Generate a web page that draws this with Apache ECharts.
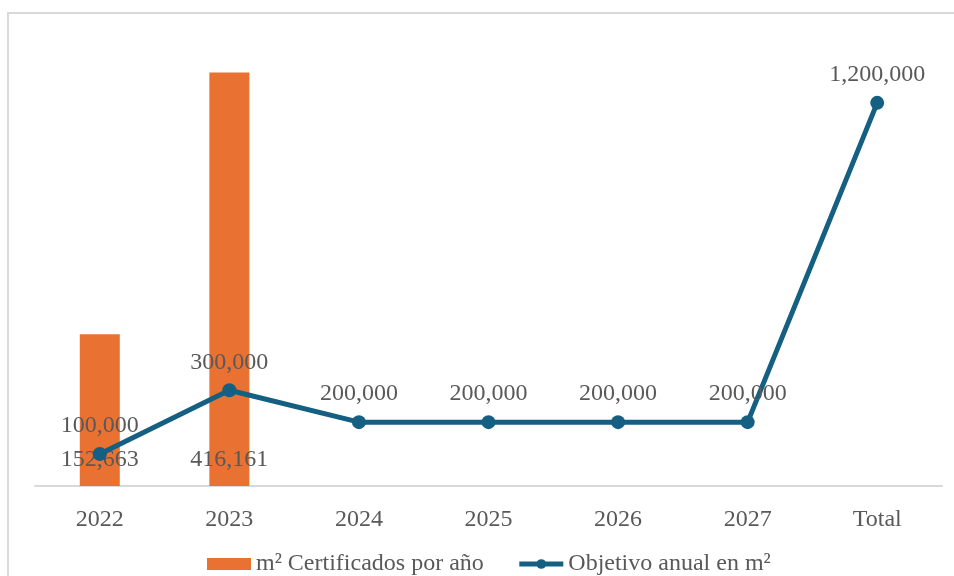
<!DOCTYPE html>
<html>
<head>
<meta charset="utf-8">
<script src="https://cdn.jsdelivr.net/npm/echarts@6/dist/echarts.min.js"></script>
<style>
  html, body { margin: 0; padding: 0; background: #fff; }
  #chart { width: 954px; height: 576px; }
</style>
</head>
<body>
<div id="chart"></div>
<script>
// categories and values
var categories = ['2022', '2023', '2024', '2025', '2026', '2027', 'Total'];
var certificados = [152663, 416161, null, null, null, null, null];
var objetivo = [100000, 300000, 200000, 200000, 200000, 200000, 1200000];

var textColor = '#595959';
var fontFamily = '"Liberation Serif", "Times New Roman", serif';

function fmt(v) {
    return String(v).replace(/\B(?=(\d{3})+(?!\d))/g, ',');
}

var chart = echarts.init(document.getElementById('chart'));

chart.setOption({
    animation: false,
    textStyle: { fontFamily: fontFamily },
    graphic: [{
        type: 'polyline',
        shape: { points: [[8, 576], [8, 13], [954, 13]] },
        style: { stroke: '#d9d9d9', lineWidth: 2, fill: null }
    }],
    grid: { left: 35, right: 12, top: 39, bottom: 90 },
    legend: {
        left: 202,
        top: 547,
        itemWidth: 44,
        itemHeight: 12,
        itemGap: 33,
        textStyle: { color: textColor, fontSize: 24, fontFamily: fontFamily },
        data: [
            { name: 'm² Certificados por año', icon: 'rect' },
            { name: 'Objetivo anual en m²', lineStyle: { width: 5 } }
        ]
    },
    xAxis: {
        type: 'category',
        data: categories,
        axisLine: { lineStyle: { color: '#d9d9d9', width: 2 } },
        axisTick: { show: false },
        axisLabel: { color: textColor, fontSize: 24, margin: 22, fontFamily: fontFamily }
    },
    yAxis: [
        { type: 'value', min: 0, max: 450000, show: false, splitLine: { show: false } },
        { type: 'value', min: 0, max: 1400000, show: false, splitLine: { show: false } }
    ],
    series: [
        {
            name: 'm² Certificados por año',
            type: 'bar',
            yAxisIndex: 0,
            data: certificados,
            barWidth: 40,
            itemStyle: { color: '#E97132' },
            label: {
                show: true,
                position: 'insideBottom',
                distance: 14,
                color: textColor,
                fontSize: 24,
                fontFamily: fontFamily,
                formatter: function (p) { return fmt(p.value); }
            }
        },
        {
            name: 'Objetivo anual en m²',
            type: 'line',
            yAxisIndex: 1,
            data: objetivo,
            symbol: 'circle',
            symbolSize: 14,
            lineStyle: { color: '#156082', width: 5 },
            itemStyle: { color: '#156082' },
            z: 5,
            label: {
                show: true,
                position: 'top',
                distance: 9,
                color: textColor,
                fontSize: 24,
                fontFamily: fontFamily,
                formatter: function (p) { return fmt(p.value); }
            }
        }
    ]
});
</script>
</body>
</html>
